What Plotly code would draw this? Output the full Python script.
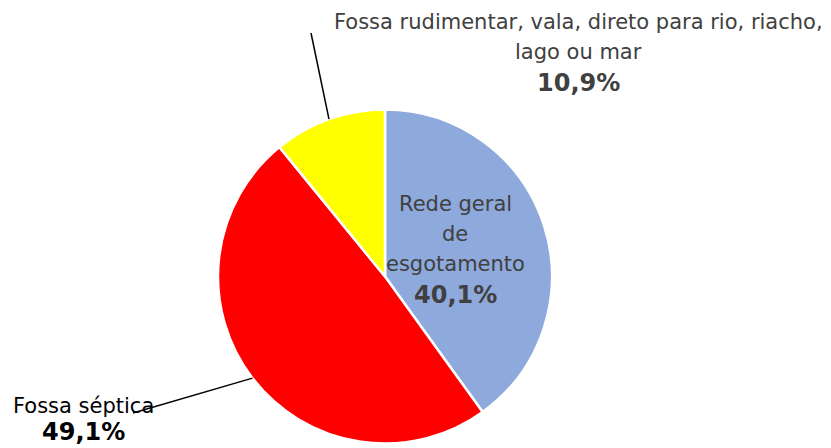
import math
import plotly.graph_objects as go

categories = ["Rede geral de esgotamento", "Fossa séptica", "Fossa rudimentar, vala, direto para rio, riacho, lago ou mar"]
values = [40.1, 49.1, 10.9]
colors = ["#8EA9DB", "#FF0000", "#FFFF00"]
label_lines = [
    ["Rede geral", "de", "esgotamento"],
    ["Fossa séptica"],
    ["Fossa rudimentar, vala, direto para rio, riacho,", "lago ou mar"],
]

W, H = 831, 448
cx, cy, r = 385, 276.5, 167

fig = go.Figure(go.Pie(
    labels=categories, values=values, sort=False, direction="clockwise", rotation=0,
    marker=dict(colors=colors, line=dict(color="white", width=2.5)),
    textinfo="none", hoverinfo="label+percent", showlegend=False,
    domain=dict(x=[(cx - r) / W, (cx + r) / W], y=[1 - (cy + r) / H, 1 - (cy - r) / H]),
))

def fmt(v):
    return f"{v:.1f}".replace(".", ",") + "%"

FONT = "DejaVu Sans"
GREY = "#404040"
SIZE = 21
BSIZE = 24
LH = 30

def px(x, y):
    return x / W, 1 - y / H

total = sum(values)
cum = 0
mids = []
for v in values:
    mids.append((cum + v / 2) / total * 2 * math.pi)
    cum += v

def edge(angle, rr):
    return cx + rr * math.sin(angle), cy - rr * math.cos(angle)

annotations = []
def block(i, xc, ytop, color, lh=LH):
    lines = label_lines[i] + ["<b>" + fmt(values[i]) + "</b>"]
    for k, t in enumerate(lines):
        last = k == len(lines) - 1
        x, y = px(xc, ytop + k * lh + (1 if last else 0))
        annotations.append(dict(x=x, y=y, xref="paper", yref="paper", showarrow=False,
            xanchor="center", yanchor="middle", text=t,
            font=dict(family=FONT, size=BSIZE if last else SIZE, color=color)))

block(0, 455, 204, GREY)
block(2, 578, 22, GREY)
block(1, 83, 406, "#000000", lh=25)

shapes = []
ex, ey = edge(mids[2], r)
a, b = px(ex, ey)
c, d = px(311, 33)
shapes.append(dict(type="line", xref="paper", yref="paper", x0=a, y0=b, x1=c, y1=d, line=dict(color="black", width=1.5)))
ex, ey = edge(mids[1], r)
a, b = px(ex, ey)
c, d = px(133, 413)
shapes.append(dict(type="line", xref="paper", yref="paper", x0=a, y0=b, x1=c, y1=d, line=dict(color="black", width=1.5)))

fig.update_layout(width=W, height=H, margin=dict(l=0, r=0, t=0, b=0),
    paper_bgcolor="white", plot_bgcolor="white",
    annotations=annotations, shapes=shapes)
fig.write_html("out.html", config={"displayModeBar": False},
               post_script="document.body.style.margin='0';")
